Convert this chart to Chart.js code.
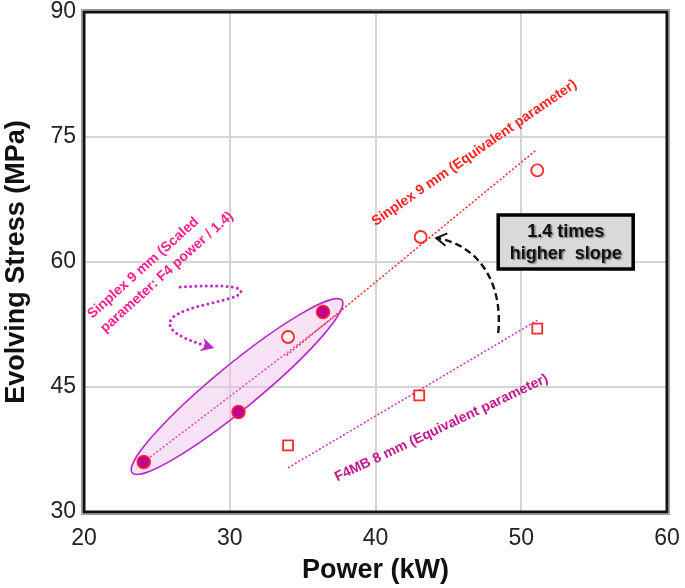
<!DOCTYPE html>
<html><head><meta charset="utf-8">
<script src="https://cdn.jsdelivr.net/npm/chart.js@4/dist/chart.umd.min.js"></script>
<style>html,body{margin:0;padding:0;background:#fff}#wrap{width:685px;height:588px}</style>
</head><body><div id="wrap"><canvas id="c" width="685" height="588"></canvas></div>
<script>
// ---- data ----
const xTicks = [20, 30, 40, 50, 60];
const yTicks = [30, 45, 60, 75, 90];
const scaledPower = [24.1, 30.6, 36.4];
const scaledStress = [36, 42, 54];
const sinplexPower = [34.0, 43.1, 51.1];
const sinplexStress = [51, 63, 71];
const f4mbPower = [34.0, 43.0, 51.1];
const f4mbStress = [38, 44, 52];
const sinplexTrendPower = [33.9, 51.0];
const sinplexTrendStress = [48.8, 73.4];
const scaledTrendPower = [24.1, 37.6];
const scaledTrendStress = [36.0, 54.0];
const f4mbTrendPower = [34.0, 51.1];
const f4mbTrendStress = [35.3, 53.0];
const labelSinplex = 'Sinplex 9 mm (Equivalent parameter)';
const labelF4mb = 'F4MB 8 mm (Equivalent parameter)';
const labelScaled = ['Sinplex 9 mm (Scaled', 'parameter: F4 power / 1.4)'];
const boxText = ['1.4 times', 'higher  slope'];

const zip = (xs, ys) => xs.map((x, i) => ({x, y: ys[i]}));
const FONT = "'Liberation Sans', Arial, Helvetica, sans-serif";

// annotation anchors in data units
const ann = {
  ellipse: {from: [23.3, 34.7], to: [37.7, 55.4], minor: 22},
  sinplexLabel: {at: [46.78, 73.08], angle: -34.7},
  f4mbLabel: {at: [44.52, 40.08], angle: -25.3},
  scaledLabel: {at: [20.57, 53.16], angle: -42, gap: 19},
  box: {at: [53.05, 62.4], w: 135, h: 54},
  dashed: [[48.42, 51.48], [48.76, 57.24], [47.18, 62.04], [44.17, 62.88]],
  curly: [[26.6, 57.0], [29.0, 57.24], [31.07, 57.24], [30.73, 56.28], [30.38, 55.32], [26.95, 54.84], [26.05, 53.28], [25.37, 51.84], [26.95, 50.64], [28.6, 49.85]]
};

const annPlugin = {
  id: 'ann',
  beforeDatasetsDraw(chart) {
    const {ctx, scales: {x, y}} = chart;
    const P = (p) => [x.getPixelForValue(p[0]), y.getPixelForValue(p[1])];
    const e = ann.ellipse;
    const a = P(e.from), b = P(e.to);
    const cx = (a[0] + b[0]) / 2, cy = (a[1] + b[1]) / 2;
    const rx = Math.hypot(b[0] - a[0], b[1] - a[1]) / 2;
    const ang = Math.atan2(b[1] - a[1], b[0] - a[0]);
    ctx.save();
    ctx.beginPath();
    ctx.ellipse(cx, cy, rx, e.minor, ang, 0, Math.PI * 2);
    ctx.fillStyle = 'rgba(240,190,235,0.45)';
    ctx.fill();
    ctx.lineWidth = 1.6;
    ctx.strokeStyle = '#b52ac6';
    ctx.stroke();
    ctx.restore();
  },
  afterDatasetsDraw(chart) {
    const {ctx, chartArea: ca, scales: {x, y}} = chart;
    const P = (p) => [x.getPixelForValue(p[0]), y.getPixelForValue(p[1])];
    ctx.save();
    // frame
    ctx.strokeStyle = '#999';
    ctx.lineWidth = 1;
    ctx.strokeRect(ca.left - 2.5, ca.top - 2.5, ca.width + 5, ca.height + 5);
    ctx.strokeStyle = '#111';
    ctx.lineWidth = 3;
    ctx.strokeRect(ca.left, ca.top, ca.width, ca.height);

    // rotated labels
    const rot = (txt, at, angle, color) => {
      const p = P(at);
      ctx.save();
      ctx.translate(p[0], p[1]);
      ctx.rotate(angle * Math.PI / 180);
      ctx.fillStyle = color;
      ctx.font = 'bold 14px ' + FONT;
      ctx.textAlign = 'center';
      ctx.textBaseline = 'middle';
      ctx.fillText(txt, 0, 0);
      ctx.restore();
    };
    rot(labelSinplex, ann.sinplexLabel.at, ann.sinplexLabel.angle, '#ff2222');
    rot(labelF4mb, ann.f4mbLabel.at, ann.f4mbLabel.angle, '#c2168e');
    {
      const p = P(ann.scaledLabel.at);
      ctx.save();
      ctx.translate(p[0], p[1]);
      ctx.rotate(ann.scaledLabel.angle * Math.PI / 180);
      ctx.fillStyle = '#ff1e8e';
      ctx.font = 'bold 14px ' + FONT;
      ctx.textAlign = 'left';
      ctx.textBaseline = 'alphabetic';
      labelScaled.forEach((t, i) => ctx.fillText(t, 0, i * ann.scaledLabel.gap));
      ctx.restore();
    }

    // dashed black arrow
    const d = ann.dashed.map(P);
    ctx.save();
    ctx.strokeStyle = '#111';
    ctx.lineWidth = 2.4;
    ctx.setLineDash([7, 4]);
    ctx.beginPath();
    ctx.moveTo(d[0][0], d[0][1]);
    ctx.bezierCurveTo(d[1][0], d[1][1], d[2][0], d[2][1], d[3][0], d[3][1]);
    ctx.stroke();
    ctx.setLineDash([]);
    const da = Math.atan2(d[3][1] - d[2][1], d[3][0] - d[2][0]);
    ctx.beginPath();
    const L = 12;
    ctx.moveTo(d[3][0] - L * Math.cos(da - 0.55), d[3][1] - L * Math.sin(da - 0.55));
    ctx.lineTo(d[3][0], d[3][1]);
    ctx.lineTo(d[3][0] - L * Math.cos(da + 0.55), d[3][1] - L * Math.sin(da + 0.55));
    ctx.lineWidth = 2;
    ctx.stroke();
    ctx.restore();

    // curly magenta dotted arrow
    const c = ann.curly.map(P);
    ctx.save();
    ctx.strokeStyle = '#c425c8';
    ctx.fillStyle = '#c425c8';
    ctx.lineWidth = 3;
    ctx.lineCap = 'round';
    ctx.setLineDash([0, 5.2]);
    ctx.beginPath();
    ctx.moveTo(c[0][0], c[0][1]);
    for (let i = 1; i + 2 < c.length; i += 3) {
      ctx.bezierCurveTo(c[i][0], c[i][1], c[i + 1][0], c[i + 1][1], c[i + 2][0], c[i + 2][1]);
    }
    ctx.stroke();
    ctx.setLineDash([]);
    const n = c.length - 1;
    const ca2 = Math.atan2(c[n][1] - c[n - 1][1], c[n][0] - c[n - 1][0]);
    const tip = [c[n][0] + 5 * Math.cos(ca2), c[n][1] + 5 * Math.sin(ca2)];
    const bx = (len, off) => [tip[0] - len * Math.cos(ca2) + off * Math.cos(ca2 + Math.PI / 2), tip[1] - len * Math.sin(ca2) + off * Math.sin(ca2 + Math.PI / 2)];
    const q1 = bx(13, -7), q2 = bx(9, 0), q3 = bx(13, 7);
    ctx.beginPath();
    ctx.moveTo(tip[0], tip[1]);
    ctx.lineTo(q1[0], q1[1]);
    ctx.lineTo(q2[0], q2[1]);
    ctx.lineTo(q3[0], q3[1]);
    ctx.closePath();
    ctx.fill();
    ctx.restore();

    // box
    const bc = P(ann.box.at);
    const bw = ann.box.w, bh = ann.box.h;
    ctx.save();
    ctx.fillStyle = '#d9d9d9';
    ctx.fillRect(bc[0] - bw / 2, bc[1] - bh / 2, bw, bh);
    ctx.strokeStyle = '#000';
    ctx.lineWidth = 3.5;
    ctx.strokeRect(bc[0] - bw / 2, bc[1] - bh / 2, bw, bh);
    ctx.font = 'bold 18px ' + FONT;
    ctx.textAlign = 'center';
    ctx.textBaseline = 'middle';
    ctx.fillStyle = '#111';
    ctx.shadowColor = 'rgba(0,0,0,0.45)';
    ctx.shadowOffsetX = 1.5;
    ctx.shadowOffsetY = 1.5;
    ctx.shadowBlur = 1.5;
    ctx.fillText(boxText[0], bc[0], bc[1] - 10);
    ctx.fillText(boxText[1], bc[0], bc[1] + 12);
    ctx.restore();

    ctx.restore();
  }
};

const noPad = s => { s.paddingLeft = 0; s.paddingRight = 0; s.paddingTop = 0; s.paddingBottom = 0; };
const dotted = [2, 2];
new Chart(document.getElementById('c'), {
  type: 'scatter',
  data: {
    datasets: [
      {data: zip(scaledPower, scaledStress), pointStyle: 'circle', pointRadius: 6.5, backgroundColor: '#c2008e', borderColor: '#ff2a2a', borderWidth: 1.5, order: 1},
      {data: zip(sinplexPower, sinplexStress), pointStyle: 'circle', pointRadius: 6, backgroundColor: 'rgba(255,255,255,0.85)', borderColor: '#ff2a2a', borderWidth: 1.8, order: 1},
      {data: zip(f4mbPower, f4mbStress), pointStyle: 'rect', pointRadius: 7, backgroundColor: 'rgba(255,255,255,0.85)', borderColor: '#ff2a2a', borderWidth: 1.8, order: 1},
      {data: zip(sinplexTrendPower, sinplexTrendStress), showLine: true, pointRadius: 0, borderColor: '#ff2a2a', borderWidth: 1.5, borderDash: dotted, order: 3},
      {data: zip(scaledTrendPower, scaledTrendStress), showLine: true, pointRadius: 0, borderColor: '#f040c8', borderWidth: 1.5, borderDash: dotted, order: 2},
      {data: zip(f4mbTrendPower, f4mbTrendStress), showLine: true, pointRadius: 0, borderColor: '#d02cc4', borderWidth: 1.5, borderDash: dotted, order: 3}
    ]
  },
  options: {
    responsive: false,
    animation: false,
    events: [],
    layout: {padding: {left: 0, right: 18, top: 12, bottom: 0}},
    plugins: {legend: {display: false}, tooltip: {enabled: false}},
    scales: {
      x: {
        type: 'linear', min: 20, max: 60,
        afterBuildTicks: s => { s.ticks = xTicks.map(v => ({value: v})); },
        afterFit: s => { s.height = 76; noPad(s); },
        grid: {color: '#d4d4d4', lineWidth: 2, drawTicks: false},
        border: {display: false},
        ticks: {font: {family: FONT, size: 23, lineHeight: 1}, color: '#222', padding: 15},
        title: {display: true, text: 'Power (kW)', color: '#111', font: {family: FONT, size: 27, weight: 'bold', lineHeight: 1.2}, padding: {top: 0, bottom: 1}}
      },
      y: {
        type: 'linear', min: 30, max: 90,
        afterBuildTicks: s => { s.ticks = yTicks.map(v => ({value: v})); },
        afterFit: s => { s.width = 84; noPad(s); },
        grid: {color: '#d4d4d4', lineWidth: 2, drawTicks: false},
        border: {display: false},
        ticks: {font: {family: FONT, size: 23, lineHeight: 1}, color: '#222', padding: 8},
        title: {display: true, text: 'Evolving Stress (MPa)', color: '#111', font: {family: FONT, size: 27, weight: 'bold', lineHeight: 1.2}, padding: {top: 0, bottom: 0}}
      }
    }
  },
  plugins: [annPlugin]
});
</script>
</body></html>
